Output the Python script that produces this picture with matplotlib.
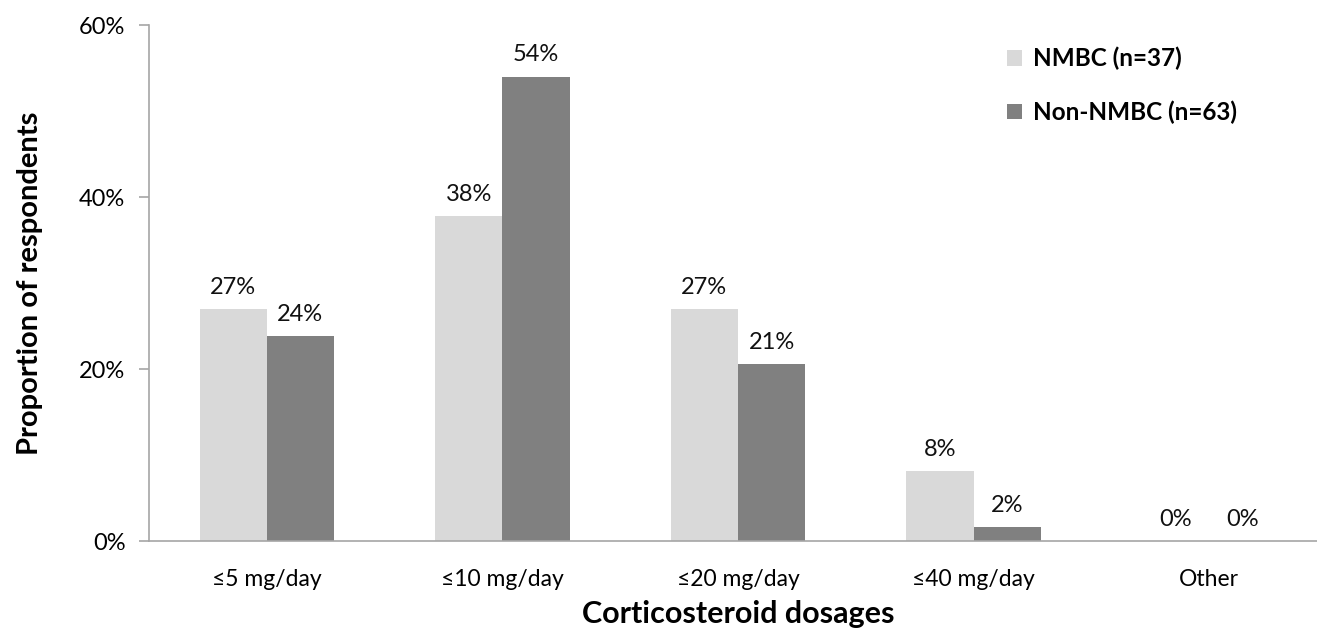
import numpy as np
import matplotlib
matplotlib.use("Agg")
import matplotlib.pyplot as plt
from matplotlib.patches import Patch

plt.rcParams["font.family"] = ["Lato", "DejaVu Sans"]

dosages = ["≤5 mg/day", "≤10 mg/day", "≤20 mg/day", "≤40 mg/day", "Other"]
nmbc = [27.0, 37.8, 27.0, 8.1, 0.0]
non_nmbc = [23.8, 54.0, 20.6, 1.6, 0.0]
series_names = ["NMBC (n=37)", "Non-NMBC (n=63)"]
series_colors = ["#D9D9D9", "#808080"]

fig = plt.figure(figsize=(13.17, 6.30), dpi=100)
ax = fig.add_axes([149 / 1317, 1 - 541 / 630, 1178 / 1317, (541 - 25) / 630])

x = np.arange(len(dosages))
w = 0.285
grey = "#A6A6A6"

for off, vals, col in [(-w / 2, nmbc, series_colors[0]), (w / 2, non_nmbc, series_colors[1])]:
    bars = ax.bar(x + off, vals, width=w, color=col, zorder=2)
    for b, v in zip(bars, vals):
        ax.text(b.get_x() + b.get_width() / 2, v + 1.3, f"{v:.0f}%",
                ha="center", va="bottom", fontsize=17, color="#111111")

ax.set_xlim(-0.5, len(dosages) - 0.5)
ax.set_ylim(0, 60)
ax.set_yticks([0, 20, 40, 60])
ax.set_yticklabels([f"{t}%" for t in [0, 20, 40, 60]], fontsize=17)
ax.set_xticks(x)
ax.set_xticklabels(dosages, fontsize=16.5)

for s in ["top", "right"]:
    ax.spines[s].set_visible(False)
for s in ["left", "bottom"]:
    ax.spines[s].set_color(grey)
    ax.spines[s].set_linewidth(1.2)
ax.tick_params(axis="y", length=7, width=1.2, color=grey, pad=10)
ax.tick_params(axis="x", length=0, pad=20)

ax.set_ylabel("Proportion of respondents", fontsize=21, fontweight="bold", labelpad=26)
ax.set_xlabel("Corticosteroid dosages", fontsize=22, fontweight="bold", labelpad=7)

handles = [Patch(facecolor=c, edgecolor="none") for c in series_colors]
leg = ax.legend(handles, series_names, loc="upper left", bbox_to_anchor=(0.71, 1.0),
                frameon=False, handlelength=0.6, handleheight=0.6, handletextpad=0.45,
                labelspacing=1.25, prop={"weight": "bold", "size": 17.5})

fig.savefig("out.png", dpi=100)
